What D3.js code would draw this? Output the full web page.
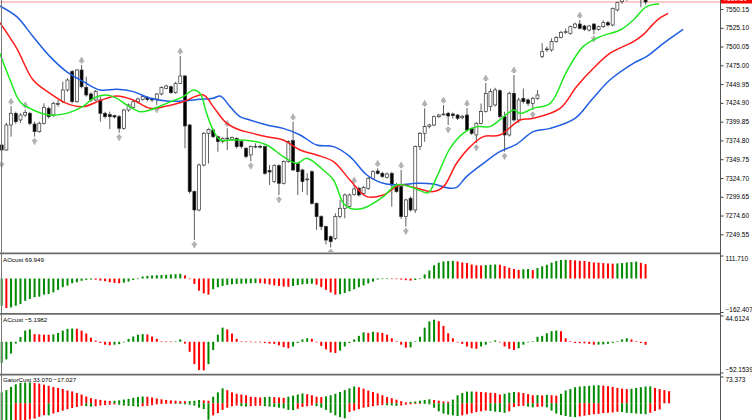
<!DOCTYPE html>
<html>
<head>
<meta charset="utf-8">
<script src="https://cdn.jsdelivr.net/npm/d3@7"></script>
<style>
  body { margin: 0; background: #fff; }
  svg { display: block; }
  text { font-family: "Liberation Sans", Arial, sans-serif; }
</style>
</head>
<body>
<div id="chart"></div>
<script>
// Candles (bar index 0..137), prices
const openP = [7368.7,7362.0,7395.4,7411.0,7402.1,7408.7,7411.0,7396.7,7386.5,7397.6,
  7417.6,7408.7,7423.4,7426.5,7442.1,7466.6,7426.5,7468.8,7445.6,7436.8,
  7428.8,7428.8,7411.0,7409.2,7407.9,7406.5,7391.0,7415.4,7419.0,7426.5,
  7429.6,7432.3,7431.0,7430.1,7436.8,7444.3,7446.5,7438.5,7451.0,7460.8,
  7395.4,7306.5,7282.0,7342.0,7384.3,7388.7,7379.8,7373.2,7377.2,7376.3,
  7377.6,7373.2,7364.3,7355.4,7366.5,7366.9,7366.5,7334.5,7319.8,7341.1,
  7317.6,7346.5,7374.5,7344.3,7335.4,7322.5,7333.1,7290.9,7273.1,7259.8,
  7246.4,7244.2,7273.1,7284.2,7286.5,7302.9,7310.9,7304.2,7310.9,7324.3,
  7334.0,7330.9,7325.6,7330.9,7315.4,7313.1,7273.1,7297.6,7282.0,7366.5,
  7384.3,7393.2,7395.4,7406.5,7409.5,7411.0,7410.0,7408.7,7405.0,7408.7,
  7390.9,7382.1,7397.6,7413.2,7419.9,7422.1,7441.2,7406.5,7382.1,7437.6,
  7402.1,7431.0,7428.8,7424.3,7431.0,7486.6,7496.0,7495.5,7506.6,7512.3,
  7518.6,7517.7,7525.7,7530.1,7527.5,7522.1,7530.1,7523.0,7526.6,7531.9,
  7528.8,7548.8,7559.9,7563.0,7568.0,7572.0,7566.0,7562.5];
const highP = [7371.8,7398.5,7420.5,7413.2,7411.0,7415.8,7413.0,7399.8,7400.0,7424.3,
  7420.0,7426.5,7428.8,7453.2,7457.7,7468.8,7470.0,7475.4,7459.9,7439.0,
  7442.0,7433.2,7413.0,7413.2,7409.0,7408.7,7417.0,7424.0,7429.0,7432.0,
  7435.0,7434.0,7432.0,7438.0,7447.0,7449.0,7448.0,7453.0,7487.5,7462.0,
  7397.0,7308.0,7344.0,7386.0,7391.0,7390.5,7381.0,7379.0,7391.0,7380.0,
  7379.0,7375.0,7366.0,7368.0,7370.9,7369.0,7368.0,7342.0,7343.0,7343.0,
  7348.0,7375.0,7399.8,7346.0,7337.0,7330.9,7335.0,7292.0,7275.0,7261.0,
  7248.0,7277.5,7295.4,7304.0,7304.0,7315.4,7313.0,7314.0,7326.0,7335.0,
  7337.6,7333.0,7332.0,7333.0,7318.0,7335.4,7297.0,7300.0,7368.0,7386.0,
  7417.6,7397.0,7408.0,7410.0,7422.1,7413.0,7412.0,7410.0,7409.0,7418.0,
  7392.0,7399.0,7424.0,7451.4,7444.0,7445.0,7443.0,7413.0,7440.0,7462.1,
  7432.0,7444.0,7431.0,7433.0,7442.0,7504.4,7500.0,7511.0,7514.0,7521.0,
  7524.0,7528.0,7532.0,7535.5,7529.0,7529.0,7531.0,7528.0,7535.0,7534.0,
  7552.0,7560.0,7566.0,7571.0,7575.0,7575.0,7569.0,7565.0];
const lowP = [7348.7,7361.1,7379.8,7397.0,7398.0,7406.0,7395.0,7379.8,7385.0,7396.0,
  7404.0,7406.0,7419.9,7424.3,7440.0,7424.3,7425.0,7444.3,7433.2,7426.0,
  7427.0,7399.8,7404.0,7390.0,7404.0,7385.0,7389.0,7413.0,7417.0,7424.0,
  7428.0,7427.0,7426.0,7422.1,7435.0,7443.0,7437.0,7437.0,7450.0,7364.3,
  7304.0,7241.9,7280.0,7340.0,7344.0,7378.0,7359.8,7371.0,7362.0,7375.0,
  7364.0,7364.0,7351.0,7347.0,7364.3,7364.0,7329.0,7315.4,7318.0,7302.0,
  7316.0,7345.0,7334.0,7302.0,7306.0,7302.0,7289.0,7255.3,7255.3,7236.0,
  7232.0,7241.9,7270.9,7270.9,7285.0,7301.0,7300.0,7302.0,7309.0,7322.0,
  7329.0,7325.0,7324.0,7286.5,7305.0,7270.0,7259.8,7280.0,7278.0,7362.0,
  7373.0,7391.0,7394.0,7405.0,7408.0,7395.4,7404.0,7402.0,7403.0,7387.0,
  7382.0,7371.4,7396.0,7412.0,7414.0,7420.0,7404.0,7359.8,7380.0,7400.0,
  7398.0,7424.0,7421.0,7415.4,7429.0,7484.3,7493.0,7493.2,7505.0,7511.0,
  7517.0,7516.0,7524.0,7523.0,7521.0,7520.0,7516.5,7521.0,7525.0,7527.0,
  7527.0,7547.0,7557.0,7561.0,7565.0,7564.0,7552.4,7556.0];
const closeP = [7362.0,7395.4,7411.0,7399.8,7408.7,7411.9,7397.6,7386.5,7397.6,7419.0,
  7406.5,7424.3,7424.0,7442.1,7455.4,7426.5,7468.8,7446.5,7435.4,7428.8,
  7439.9,7411.0,7406.5,7406.5,7406.1,7391.0,7415.4,7422.1,7426.5,7430.1,
  7433.2,7429.6,7428.8,7436.8,7445.6,7447.4,7438.5,7451.0,7460.8,7394.1,
  7306.5,7282.0,7342.0,7384.3,7389.6,7379.8,7373.2,7377.6,7377.8,7378.9,
  7366.5,7366.5,7353.2,7366.5,7366.9,7366.5,7330.9,7332.7,7341.1,7317.6,
  7346.5,7373.2,7335.4,7333.1,7319.8,7323.3,7290.9,7273.1,7259.8,7241.9,
  7239.7,7273.1,7284.2,7302.0,7302.0,7310.0,7302.0,7312.2,7324.3,7333.1,
  7330.9,7326.5,7330.0,7315.4,7306.5,7273.1,7295.4,7282.0,7366.5,7384.3,
  7393.2,7395.4,7406.5,7408.7,7410.0,7407.4,7408.0,7404.3,7407.0,7388.7,
  7384.3,7397.6,7413.2,7437.6,7439.9,7442.1,7406.5,7382.1,7437.6,7402.1,
  7428.8,7426.5,7424.3,7431.0,7435.4,7493.2,7496.8,7506.6,7512.3,7519.0,
  7519.9,7526.6,7530.1,7524.4,7523.0,7527.5,7523.0,7526.6,7531.9,7528.8,
  7551.1,7558.6,7563.0,7568.0,7572.0,7566.0,7562.5,7559.5];

// Alligator lines: [bar, price] points (lines run past the last bar)
const jaw = [[-0.4,7554.2],[3.2,7539.9],[6.7,7513.2],[10.3,7486.6],[13.8,7466.6],[17.4,7453.2],
  [20.9,7442.1],[24.5,7443.0],[28.0,7439.9],[31.6,7431.0],[35.1,7427.4],[38.6,7427.4],[42.2,7429.6],
  [45.0,7431.0],[46.5,7434.1],[48.6,7419.9],[50.7,7406.5],[52.8,7402.1],[56.4,7395.4],[59.9,7390.9],
  [63.5,7382.1],[67.0,7368.7],[70.6,7366.5],[74.1,7353.2],[77.7,7328.7],[81.2,7317.6],[84.8,7315.4],
  [88.3,7317.6],[91.8,7316.7],[95.4,7310.9],[96.8,7312.2],[98.9,7326.5],[102.5,7344.3],[106.0,7359.8],
  [109.6,7370.0],[113.1,7386.5],[116.7,7390.9],[122.0,7404.3],[125.5,7428.8],[129.4,7455.4],
  [134.4,7477.7],[137.2,7486.6],[140.8,7504.4],[145.0,7523.0]];
const teeth = [[-0.4,7531.9],[3.2,7497.7],[6.7,7455.4],[10.3,7437.6],[13.8,7424.3],[17.4,7419.9],
  [20.9,7427.9],[24.5,7434.1],[28.0,7428.8],[31.6,7417.6],[35.1,7420.7],[38.6,7426.5],[42.9,7435.4],
  [45.0,7419.9],[47.9,7397.6],[50.7,7388.7],[52.8,7385.2],[56.4,7379.8],[59.9,7375.4],[63.5,7362.0],
  [67.0,7355.4],[70.6,7346.5],[74.1,7322.0],[77.7,7299.8],[81.2,7302.0],[84.8,7315.4],[88.3,7310.9],
  [91.8,7306.5],[94.0,7313.1],[96.8,7344.3],[99.7,7366.5],[102.5,7379.8],[106.0,7382.1],[110.3,7402.1],
  [113.1,7404.3],[118.8,7417.6],[122.3,7446.5],[125.9,7471.0],[129.4,7491.0],[134.4,7506.6],
  [136.5,7516.0],[138.6,7530.0],[140.0,7538.0],[141.8,7544.4]];
const lips = [[-0.4,7491.0],[1.8,7455.4],[3.9,7426.5],[6.7,7415.4],[10.3,7408.7],[13.8,7410.9],
  [17.4,7420.7],[19.5,7431.0],[22.3,7435.4],[24.5,7431.0],[26.6,7422.1],[29.4,7413.2],[31.6,7415.4],
  [35.1,7424.3],[38.6,7433.2],[40.8,7442.1],[42.2,7437.6],[43.6,7410.9],[45.0,7388.7],[46.5,7375.4],
  [49.3,7375.4],[52.8,7374.5],[56.4,7368.7],[59.9,7353.2],[62.8,7344.3],[64.9,7350.9],[68.4,7335.4],
  [70.6,7322.0],[72.7,7290.9],[74.1,7284.2],[76.9,7284.2],[81.2,7299.8],[84.0,7315.4],[86.9,7313.1],
  [89.0,7307.8],[90.8,7305.1],[92.6,7326.5],[95.4,7364.3],[98.2,7384.3],[101.1,7393.2],[103.9,7393.2],
  [106.0,7402.1],[108.9,7415.4],[110.3,7410.9],[113.1,7417.6],[116.7,7424.3],[120.2,7466.6],
  [123.7,7499.9],[127.3,7513.2],[131.6,7522.1],[134.4,7535.5],[137.2,7553.3],[139.9,7556.8]];

// Fractal bars
const fractalUp = [2, 5, 17, 38, 48, 62, 75, 80, 85, 90, 94, 99, 103, 109, 123];
const fractalDown = [0, 7, 25, 33, 41, 53, 59, 70, 86, 95, 101, 107, 113, 126];

// Awesome oscillator and accelerator values per bar
const aoValues = [-132,-143,-140,-132,-124,-108,-99,-91,-88,-78,
  -75,-67,-55,-42,-34,-23,-18,-11,-6.5,-5,
  -6,-10,-13,-18,-21,-23,-20,-15,-7,-2,
  10,13,15,16,17,18,20,21,23,15,
  -1,-26,-59,-72,-78,-52,-42,-36,-31,-28,
  -26,-25,-24,-23,-22,-22.5,-25,-29,-33,-36,
  -39,-40,-36,-32,-28,-26,-25,-30,-42,-55,
  -68,-78,-76,-70,-62,-52,-42,-33,-24,-15,
  -5,-3,-1,-2,-3,-5,-8,-10,-7,-1,
  20,39,64,77,83,85,85.5,83,78,75,
  68,64,63.5,65,67,68,67,60,52,46,
  42,45,46,41,51,59,67,77,85,90,
  91,90,88,86,85,81,78,77,75,73,
  72,73,75,78,80,82,76,69.949];
const acValues = [-36,-30,-20,-3,8,19,21,13,12.5,12,
  11.8,12.5,15,19,22,22.5,22,19,14,7,
  2,-2,-5,-6,-5,-4,0,5,9,12,
  13,12.5,9,5,1,0.5,0.3,1,4,-3,
  -17,-38,-48,-48.5,-38,-14,12,24,21,14,
  5,1,0.5,0.3,-0.5,-1,-2,-3,-3.5,-6,
  -9,-11,-8,-2,4,6,5,-1,-7,-13,
  -18,-19,-15,-8,-2,4,10,16,15,17,
  16,15,12,6,1,-5,-10,-9.5,1,8.5,
  24,34.5,37.5,35,27,14.5,6,0,-3.5,-8,
  -11,-12,-8,-5,0,2.4,0,-8,-12,-14,
  -11,-5,0,1,8.5,10,14.5,18,19,18,
  6,1,-2,-2.3,-2.5,-3.5,-5,-4.8,-4.5,-3.5,
  -2,1,4,6,4,1,-2,-5.1982];

// Gator oscillator: upper bars (bar 0..142) and lower bars (bar 0..140)
const gatorUp = [30,36,45,52,56,56.5,57,55.5,54,51,
  48,44.6,42,39,35,32.5,28,24,18.6,14,
  11,9.3,7.4,6.5,7,8,10,12,15,17,
  18.5,18,16,13,11,9,8,7,6,5.5,
  6,7,9,8,7,18,30,41,36,30,
  26,24,22,18,17,16,17,18,17,16,
  15,18,21,24,27,25,22,18,17,19,
  22,26,31,36,41,46,44,40,35,31,
  27,22,17,14,10,6,3,4,5,7,
  9,11,9,7,5,4,10,22,28,32,
  32.3,31.8,31,30,29,28,24,26,29,31,
  30,28,25,22,22.5,21.5,23,22,21,26,
  35,39,44,46,47,48,49,49.5,48.5,47,
  45,42,40,39,40,42,44,46,46.5,42,
  39,36,33.07];
const gatorDown = [-50,-52,-54,-53,-50,-47,-44,-42,-37,-32.5,
  -33,-28,-24,-20,-16,-13,-10,-7,-8,-9,
  -8,-6,-5,-4,-3,-4,-6,-7,-8,-9,
  -8,-7,-5,-3,-2,-1,-1,-1.5,-2,-3,
  -4,-6,-12,-16,-45,-33,-27,-18,-12,-8,
  -6,-8,-9,-8,-7,-6.5,-8,-9,-10,-12,
  -14,-18,-19,-15,-10,-8,-6,-8,-12,-18,
  -26,-33,-38,-41,-24,-20,-16,-12,-10,-8,
  -6,-5,-5.5,-6,-7,-6,-4,-3,-2,-1,
  -2,-3,-12,-22,-28,-31,-33,-35,-33,-30,
  -27,-24,-22,-20,-21,-23,-24,-26,-22,-10,
  -8,-7,-9,-11,-10,-9,-11,-20,-28,-32,
  -35,-37,-38,-36,-34,-32,-30,-29,-27,-26,
  -25,-23,-24,-26,-27,-28,-29,-30,-26,-21,
  -17.027];

// Right-hand scale labels
const priceTicks = [7550.15,7525.10,7500.05,7475.00,7449.95,7424.90,7399.85,7374.80,7349.75,7324.70,7299.65,7274.60,7249.55];
const aoTicks = [111.710, -162.407];
const acTicks = [44.6124, -52.1539];
const gatorTicks = [73.373];

const width = 752, height = 420;
const axisX = 720.5;
const green = "#008a00", red = "#ff0000";

const svg = d3.select("#chart").append("svg")
  .attr("width", width).attr("height", height)
  .attr("viewBox", `0 0 ${width} ${height}`);

// Scales
const x = d3.scaleLinear().domain([0, 137]).range([1.67, 1.67 + 4.7 * 137]);
const yMain = d3.scaleLinear().domain([7249.55, 7550.15]).range([234.3, 9]);
const yAO = d3.scaleLinear().domain([-162.407, 111.71]).range([312, 255.5]);
const yAC = d3.scaleLinear().domain([-52.1539, 44.6124]).range([372.5, 315.5]);
const yGator = d3.scaleLinear().domain([-60, 73.373]).range([425.2, 376.5]);

// Clip regions for each pane
const defs = svg.append("defs");
const panes = [["clipMain", 0, 252], ["clipAO", 255, 57], ["clipAC", 315, 58], ["clipGator", 376, 44]];
panes.forEach(([id, top, h]) => {
  defs.append("clipPath").attr("id", id)
    .append("rect").attr("x", 0).attr("y", top).attr("width", axisX).attr("height", h);
});

// Main pane
const main = svg.append("g").attr("clip-path", "url(#clipMain)");
const idx = d3.range(openP.length);

// current price line
main.append("line")
  .attr("x1", 0).attr("x2", axisX)
  .attr("y1", yMain(closeP[closeP.length - 1])).attr("y2", yMain(closeP[closeP.length - 1]))
  .attr("stroke", "#f29494").attr("stroke-width", 1.2);

const candle = main.append("g").selectAll("g").data(idx).enter().append("g");
candle.append("line")
  .attr("x1", i => x(i)).attr("x2", i => x(i))
  .attr("y1", i => yMain(highP[i])).attr("y2", i => yMain(lowP[i]))
  .attr("stroke", "#333").attr("stroke-width", 0.8);
candle.append("rect")
  .attr("x", i => x(i) - 1.5)
  .attr("width", 3)
  .attr("y", i => yMain(Math.max(openP[i], closeP[i])))
  .attr("height", i => Math.max(0.8, Math.abs(yMain(openP[i]) - yMain(closeP[i]))))
  .attr("fill", i => closeP[i] >= openP[i] ? "#fff" : "#000")
  .attr("stroke", "#333").attr("stroke-width", 0.7);

// Fractal arrows
const upArrow = "M0,-3 L2.6,1.6 L0.9,0.8 L0.9,3 L-0.9,3 L-0.9,0.8 L-2.6,1.6 Z";
main.append("g").selectAll("path").data(fractalUp).enter().append("path")
  .attr("d", upArrow)
  .attr("transform", i => `translate(${x(i)},${yMain(highP[i]) - 5})`)
  .attr("fill", "#b4b4b4").attr("stroke", "#8c8c8c").attr("stroke-width", 0.4);
main.append("g").selectAll("path").data(fractalDown).enter().append("path")
  .attr("d", upArrow)
  .attr("transform", i => `translate(${x(i)},${yMain(lowP[i]) + 5}) rotate(180)`)
  .attr("fill", "#b4b4b4").attr("stroke", "#8c8c8c").attr("stroke-width", 0.4);

// Alligator lines
const lineGen = d3.line()
  .x(d => x(d[0])).y(d => yMain(d[1]))
  .curve(d3.curveCatmullRom.alpha(0.5));
[[jaw, "#1f5ee0"], [teeth, "#ff1c1c"], [lips, "#1fe81f"]].forEach(([data, c]) => {
  main.append("path").datum(data)
    .attr("d", lineGen)
    .attr("fill", "none").attr("stroke", c).attr("stroke-width", 1.5);
});

// Histogram helper; colour follows rise/fall against the previous bar
function histogram(clipId, scale, values, useAbs) {
  const g = svg.append("g").attr("clip-path", `url(#${clipId})`);
  g.selectAll("rect").data(values).enter().append("rect")
    .attr("x", (v, i) => x(i) - 1)
    .attr("width", 2)
    .attr("y", v => Math.min(scale(v), scale(0)))
    .attr("height", v => Math.max(0.6, Math.abs(scale(v) - scale(0))))
    .attr("fill", (v, i) => {
      if (i === 0) return green;
      const cur = useAbs ? Math.abs(v) : v;
      const prev = useAbs ? Math.abs(values[i - 1]) : values[i - 1];
      return cur > prev ? green : red;
    });
}
histogram("clipAO", yAO, aoValues, false);
histogram("clipAC", yAC, acValues, false);
histogram("clipGator", yGator, gatorUp, true);
histogram("clipGator", yGator, gatorDown, true);

// Pane titles
const f3 = d3.format(".3f"), f4 = d3.format(".4f");
const titles = [
  [262, "AOcust " + f3(aoValues[aoValues.length - 1])],
  [322, "ACcust " + f4(acValues[acValues.length - 1])],
  [381.5, "GatorCust " + f3(gatorUp[gatorUp.length - 1]) + " " + f3(gatorDown[gatorDown.length - 1])]
];
svg.append("g").selectAll("text").data(titles).enter().append("text")
  .attr("x", 3).attr("y", d => d[0])
  .attr("font-size", 6.2).attr("fill", "#000")
  .text(d => d[1]);

// Separators and frame
svg.append("line").attr("x1", 1.5).attr("x2", 1.5).attr("y1", 0).attr("y2", height)
  .attr("stroke", "#7a7a7a").attr("stroke-width", 1);
[253.3, 313.8, 374.6].forEach(yy => {
  svg.append("line").attr("x1", 0).attr("x2", axisX).attr("y1", yy).attr("y2", yy)
    .attr("stroke", "#6a6a6a").attr("stroke-width", 1.7);
});
svg.append("line").attr("x1", axisX).attr("x2", axisX).attr("y1", 0).attr("y2", height)
  .attr("stroke", "#555").attr("stroke-width", 1);

// Axes
function styleAxis(g) {
  g.select(".domain").remove();
  g.selectAll(".tick line").attr("stroke", "#444");
  g.selectAll(".tick text").attr("font-size", 6.5).attr("fill", "#000")
    .attr("font-family", "Liberation Sans, Arial, sans-serif");
}
svg.append("g").attr("transform", `translate(${axisX},0)`)
  .call(d3.axisRight(yMain).tickValues(priceTicks).tickSize(3).tickPadding(2).tickFormat(d3.format(".2f")))
  .call(styleAxis);

const subAxes = [[yAO, aoTicks, f3], [yAC, acTicks, f4], [yGator, gatorTicks, f3]];
subAxes.forEach(([sc, ticks, fmt]) => {
  const g = svg.append("g").attr("transform", `translate(${axisX},0)`)
    .call(d3.axisRight(sc).tickValues(ticks).tickSize(3).tickPadding(2).tickFormat(fmt))
    .call(styleAxis);
  g.selectAll(".tick text").attr("dy", (d, i) => d === ticks[0] ? "0.7em" : "-0.1em");
});

// Last price tag on the scale
const lastY = yMain(closeP[closeP.length - 1]);
svg.append("rect").attr("x", axisX + 0.5).attr("y", lastY - 9).attr("width", 31).attr("height", 10.5)
  .attr("fill", "#ff0000");
svg.append("text").attr("x", axisX + 3).attr("y", lastY - 1.5)
  .attr("font-size", 6.5).attr("fill", "#fff")
  .text(d3.format(".2f")(closeP[closeP.length - 1]));
</script>
</body>
</html>
